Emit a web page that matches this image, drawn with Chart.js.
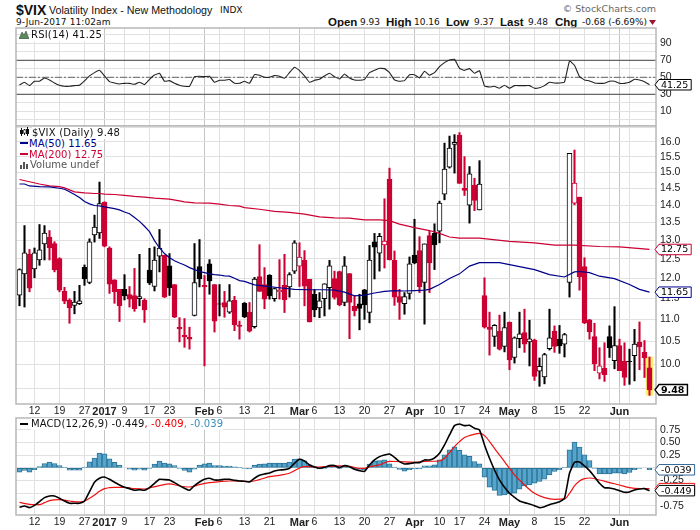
<!DOCTYPE html>
<html><head><meta charset="utf-8">
<script src="https://cdn.jsdelivr.net/npm/chart.js@4"></script>
<style>
html,body{margin:0;padding:0;background:#fff;width:700px;height:530px;overflow:hidden}
canvas{position:absolute;left:0;display:block}
.t{position:absolute;white-space:nowrap;color:#111;line-height:12px}
.d{font-family:"DejaVu Sans";font-size:9px}
.b{font-family:"Liberation Sans";font-weight:bold;font-size:11.5px}
.l{font-family:"DejaVu Sans";font-size:10px;background:#fff;z-index:5}
svg{position:absolute;z-index:5}
</style></head><body>
<div class="t b" style="left:16px;top:2px;font-size:14px;line-height:16px">$VIX</div>
<div class="t" style="left:49px;top:3px;font-family:'Liberation Sans';font-size:10.7px;line-height:14px">Volatility Index - New Methodology</div>
<div class="t d" style="left:220px;top:4px;line-height:12px">INDX</div>
<div class="t d" style="left:16px;top:16px;letter-spacing:.1px">9-Jun-2017 11:02am</div>
<div class="t" style="right:44px;top:3px;font-family:'DejaVu Sans';font-size:9.5px;color:#666">© StockCharts.com</div>
<div class="t b" style="left:328px;top:16px">Open</div><div class="t d" style="left:360px;top:16px">9.93</div>
<div class="t b" style="left:386px;top:16px">High</div><div class="t d" style="left:414px;top:16px">10.16</div>
<div class="t b" style="left:446px;top:16px">Low</div><div class="t d" style="left:474px;top:16px">9.37</div>
<div class="t b" style="left:500px;top:16px">Last</div><div class="t d" style="left:528px;top:16px">9.48</div>
<div class="t b" style="left:555px;top:16px">Chg</div><div class="t d" style="left:582px;top:16px">-0.68 (-6.69%)</div>
<svg style="left:649px;top:20px" width="7" height="5"><path d="M0 0H7L3.5 5Z" fill="#a01030"/></svg>

<canvas id="rsi" width="700" height="100" style="top:26px;width:700px;height:100px"></canvas>
<canvas id="main" width="700" height="294" style="top:124px;width:700px;height:294px"></canvas>
<canvas id="macd" width="700" height="113" style="top:416px;width:700px;height:113px"></canvas>

<svg style="left:19px;top:30px" width="10" height="9"><path d="M0 9L3 2L5 5L7 1L10 9Z" fill="#5c8a5c" stroke="#333" stroke-width=".5"/></svg>
<div class="t l" style="left:31px;top:29px;letter-spacing:.2px">RSI(14) 41.25</div>
<svg style="left:20px;top:127px" width="10" height="10"><path d="M1.5 1V9M4.5 2V8M7.5 0V9" stroke="#111" stroke-width="1"/><rect x="0" y="3" width="3" height="4" fill="#111"/><rect x="3.5" y="3" width="2.5" height="3" fill="#fff" stroke="#111" stroke-width=".6"/><rect x="6" y="2" width="3" height="5" fill="#111"/></svg>
<div class="t l" style="left:32px;top:127px;letter-spacing:.2px">$VIX (Daily) 9.48</div>
<svg style="left:20px;top:142px" width="8" height="2"><rect width="8" height="2" fill="#00008b"/></svg>
<div class="t l" style="left:29px;top:138px;color:#00008b">MA(50) 11.65</div>
<svg style="left:20px;top:153px" width="8" height="2"><rect width="8" height="2" fill="#cc0033"/></svg>
<div class="t l" style="left:29px;top:149px;color:#cc0033">MA(200) 12.75</div>
<svg style="left:20px;top:161px" width="9" height="8"><path d="M0 8V4H2V8ZM3 8V1H5V8ZM6 8V3H8V8Z" fill="#555"/></svg>
<div class="t l" style="left:30px;top:159px;color:#555">Volume undef</div>
<svg style="left:20px;top:423px" width="8" height="2"><rect width="8" height="2" fill="#000"/></svg>
<div class="t l" style="left:31px;top:418px;letter-spacing:.1px">MACD(12,26,9) -0.449<span style="color:#e00">, -0.409</span><span style="color:#3a8fc0">, -0.039</span></div>

<script>
const opens=[11.58,12.11,12.62,12.24,12.47,12.9,13.09,12.91,12.51,11.67,
11.45,11.33,11.37,12.28,11.89,13.15,13.2,14.09,12.79,11.96,
11.72,11.72,11.59,11.57,11.49,11.45,12.21,11.79,12.57,12.59,
12.32,11.84,10.82,10.64,10.59,11.09,12.3,11.82,12.37,11.84,
11.37,11.4,11.17,11.45,10.87,11.38,11.17,10.83,12.04,11.84,
12.07,11.49,11.66,11.82,11.78,12.18,12.31,12.46,11.97,11.6,
11.27,11.49,11.76,11.99,12.17,11.4,12.12,11.31,11.37,11.71,
11.16,12.96,12.65,12.87,14.79,12.46,11.54,11.37,11.62,12.6,
12.72,11.89,13.13,13.19,13.25,14.33,15.17,15.92,16.23,14.51,
14,14.61,13.86,11.57,10.82,10.61,10.73,10.39,10.93,10.15,
10.56,10.7,10.49,10.53,9.86,9.74,10.34,10.73,10.55,10.44,
11.89,14.06,14.24,12.3,10.99,10.61,9.82,9.92,10.61,10.08,
10.41,10.07,10.07,10.19,10.48,10.26,9.93];
const closes=[12.22,12.66,11.75,12.66,12.74,13.2,12.79,12.21,11.7,11.43,
11.27,11.41,11.44,11.98,12.96,13.37,14.05,12.84,11.85,11.66,
11.32,11.56,11.48,11.25,11.54,11.22,11.88,12.47,12.79,11.53,
11.76,11.05,10.78,10.6,10.55,11.89,11.98,11.78,11.93,10.96,
11.36,11.29,11.44,10.87,10.84,11.06,10.73,11.98,11.67,11.48,
11.56,11.74,11.7,11.46,12.09,12.93,12.55,11.8,10.94,11.22,
11.44,11.86,12.32,11.52,11.34,12.32,11.4,11.2,11.26,11.34,
12.47,12.81,13.11,12.98,12.48,11.53,11.4,11.54,12.37,12.39,
11.78,12.9,12.39,12.87,14.06,15.11,15.79,15.99,14.66,14.44,
14.96,14.14,14.64,10.82,10.77,10.86,10.33,10.81,10.1,10.58,
10.67,10.44,10.56,9.75,9.96,10.21,10.58,10.39,10.4,10.65,
15.62,14.67,12.03,10.92,10.71,10.01,9.97,9.79,10.36,10.41,
9.87,9.73,10.06,10.44,10.38,10.14,9.48];
const highs=[12.24,13.41,12.75,12.79,13.44,13.41,13.27,12.96,12.53,11.77,
11.49,11.67,11.82,12.34,13.04,13.71,14.7,14.1,12.82,11.96,
11.72,12.09,11.79,12.25,12.62,11.49,12.78,12.82,13.3,12.6,
12.64,11.84,11.04,11.02,10.82,12.91,13.02,12.07,12.48,11.84,
11.84,11.67,11.84,11.55,10.96,11.4,11.4,12.02,12.88,12.27,
12.09,11.75,12.48,12.62,12.14,12.99,12.93,12.72,11.97,11.72,
11.64,11.86,12.46,12.18,12.18,12.56,12.12,11.56,11.6,11.72,
12.86,13.19,13.19,14.19,15.14,12.71,11.72,11.64,12.55,13.59,
13.1,12.9,13.25,13.46,14.12,15.96,16.2,16.25,16.32,15.51,
15.19,14.82,15.38,12.01,11.17,10.88,11.1,11.17,10.94,10.6,
11.17,11.24,10.98,10.55,10.14,10.24,11.24,10.85,10.86,10.68,
15.62,15.73,14.24,12.53,11,10.91,10.36,10.47,10.85,11.3,
10.55,10.47,10.33,10.77,10.94,10.52,10.16];
const lows=[11.32,11.29,11.66,12.01,12.33,12.47,12.47,12.16,11.66,11.37,
10.91,11.13,11.35,11.82,11.86,12.95,13.05,12.82,11.62,11.38,
10.95,11.46,11.29,11.19,11.32,10.93,11.84,11.68,12.16,11.52,
11.57,11.04,10.49,10.37,10.33,11.08,11.78,9.97,11.6,10.71,
11.08,11.05,11.14,10.74,10.55,11.04,10.71,10.8,11.67,11.25,
11.48,11.43,11.48,11.16,11.53,12.12,11.79,11.32,10.94,11.06,
11.04,11.08,11.24,11.48,11.32,11.32,10.56,11.08,10.76,11,
10.92,11.98,12.18,12.26,12.47,11.33,11,11.12,11.48,12.37,
11.64,10.89,11.64,12.22,12.93,14.16,15.14,14.98,14.66,14.29,
13.48,13.84,13.86,10.8,10.2,10.39,10.31,10.27,9.89,10.03,
10.36,10.26,9.97,9.67,9.55,9.6,10.31,10.26,10.24,10.16,
11.53,14.01,11.7,10.9,10.55,9.87,9.7,9.65,10.15,9.91,
9.87,9.57,9.59,9.66,9.89,9.73,9.37];

const ma50Idx=[0,1,2,4,6,8,9,10,11,12,13,14,15,16,17,19,20,21,22,23,24,25,26,27,28,29,30,31,32,33,34,35,36,37,38,39,40,41,42,43,44,45,47,49,52,55,58,61,63,65,67,69,71,73,75,77,79,81,82,84,86,88,90,92,96,98,103,106,109,111,112,114,116,119,122,124,126];
const ma50Val=[14.64,14.64,14.58,14.56,14.55,14.51,14.48,14.4,14.32,14.23,14.11,14.04,13.99,13.98,13.95,13.9,13.86,13.8,13.75,13.64,13.53,13.39,13.24,12.99,12.79,12.64,12.53,12.45,12.39,12.34,12.27,12.22,12.17,12.14,12.11,12.09,12.08,12.06,12.05,12,11.94,11.92,11.83,11.8,11.76,11.72,11.71,11.71,11.7,11.65,11.56,11.58,11.63,11.67,11.69,11.68,11.69,11.7,11.72,11.84,11.99,12.11,12.31,12.4,12.4,12.35,12.22,12.09,12.03,12.16,12.17,12.14,12.05,11.99,11.84,11.72,11.65];
const ma200Idx=[0,2,4,6,8,9,10,11,13,15,16,17,19,21,23,25,27,30,32,33,35,38,40,42,44,45,48,51,54,57,60,63,66,69,72,74,76,79,82,84,86,88,90,92,98,103,107,111,116,120,126];
const ma200Val=[14.78,14.71,14.64,14.58,14.56,14.52,14.46,14.4,14.37,14.35,14.35,14.33,14.32,14.29,14.26,14.24,14.21,14.18,14.13,14.1,14.07,14.06,14.03,13.99,13.97,13.93,13.88,13.82,13.79,13.74,13.66,13.63,13.62,13.57,13.57,13.55,13.45,13.35,13.27,13.19,13.09,13.06,13.06,13.06,12.97,12.93,12.87,12.87,12.83,12.82,12.75];
const highlightRange=[9.37,10.16];

const rsiVal=[41,44.1,40.2,45.3,45.3,49.2,46.9,43.3,40.6,39.4,
39.4,40.2,40.6,45.7,51.6,55.5,58.2,51.6,44.9,43.3,
42.2,42.9,42.9,41.8,44.1,41.4,47.6,52.7,54.7,45.3,
46.1,42.9,40.6,39.4,39.4,50.8,51.2,50.8,51.2,44.1,
46.5,46.5,47.3,42.9,42.9,45.3,42.9,53.1,52.4,50,
50,52,51.2,48.8,55.5,61.8,57.8,51.6,44.1,46.5,
47.6,51.6,54.7,50.8,48,53.9,49.2,46.9,46.5,47.6,
55.5,58.2,60.6,60.2,55.5,46.9,45.3,46.1,53.1,53.1,
49.2,57.1,52.4,55.5,62.5,67.3,70.4,71.2,60.6,58.2,
60.2,54.7,57.8,39.8,38.6,39.4,37.1,40.6,37.1,40.2,
40.2,40.2,40.2,37.1,37.8,40.2,44.1,43.3,43.3,44.5,
69.2,64.1,50.8,46.9,45.7,43.3,42.9,42.9,45.3,45.3,
42.9,42.9,44.1,47.6,46.9,44.9,41.25];
const rsiLevelHigh=70, rsiLevelMid=50, rsiLevelLow=30;

const macdVal=[-0.776,-0.75,-0.783,-0.737,-0.665,-0.586,-0.553,-0.553,-0.599,-0.652,
-0.697,-0.697,-0.697,-0.652,-0.468,-0.285,-0.206,-0.18,-0.226,-0.285,
-0.337,-0.383,-0.409,-0.442,-0.429,-0.442,-0.39,-0.305,-0.226,-0.232,
-0.239,-0.291,-0.35,-0.403,-0.442,-0.35,-0.278,-0.226,-0.206,-0.239,
-0.239,-0.226,-0.226,-0.246,-0.259,-0.265,-0.278,-0.206,-0.147,-0.121,
-0.102,-0.062,-0.043,-0.036,-0.01,0.088,0.167,0.134,0.056,0.016,
-0.01,0.01,0.043,0.043,0.003,0.043,0.023,-0.029,-0.056,-0.069,
0.056,0.154,0.219,0.252,0.272,0.206,0.121,0.075,0.082,0.102,
0.102,0.154,0.154,0.193,0.285,0.449,0.645,0.828,0.861,0.828,
0.835,0.776,0.743,0.449,0.187,-0.043,-0.239,-0.383,-0.501,-0.58,
-0.652,-0.684,-0.711,-0.743,-0.783,-0.763,-0.724,-0.697,-0.665,-0.599,
-0.108,0.108,0.115,0.036,-0.056,-0.174,-0.305,-0.39,-0.396,-0.416,
-0.449,-0.481,-0.475,-0.436,-0.416,-0.409,-0.449];
const signalIdx=[0,2,4,5,6,8,10,12,13,14,15,16,17,18,19,21,23,25,26,28,30,32,34,36,38,40,42,44,46,48,50,52,54,55,56,57,58,60,62,64,66,68,69,70,72,74,76,79,81,84,85,86,87,88,89,90,92,93,95,97,99,101,103,105,107,109,110,111,112,113,114,116,118,120,122,124,126];
const signalVal=[-0.678,-0.717,-0.724,-0.684,-0.645,-0.625,-0.652,-0.671,-0.652,-0.599,-0.534,-0.462,-0.409,-0.39,-0.383,-0.383,-0.409,-0.416,-0.396,-0.35,-0.317,-0.357,-0.377,-0.331,-0.291,-0.272,-0.259,-0.259,-0.272,-0.232,-0.174,-0.147,-0.108,-0.056,-0.003,0.023,0.023,0.016,0.029,0.036,0.029,-0.01,-0.01,0.023,0.056,0.128,0.121,0.108,0.128,0.134,0.187,0.298,0.416,0.514,0.593,0.632,0.678,0.632,0.383,0.121,-0.141,-0.337,-0.501,-0.586,-0.619,-0.612,-0.501,-0.357,-0.259,-0.213,-0.2,-0.239,-0.291,-0.337,-0.39,-0.409,-0.409];
const histVal=[-0.085,-0.052,-0.085,-0.039,0.026,0.085,0.111,0.085,0.046,0.007,
-0.046,-0.046,-0.046,0.013,0.118,0.19,0.288,0.275,0.177,0.105,
0.052,0,-0.026,-0.046,-0.026,-0.046,-0.007,0.072,0.131,0.092,
0.079,0.046,-0.013,-0.052,-0.085,-0.026,0.052,0.079,0.092,0.046,
0.046,0.033,0.033,0.02,0.007,-0.013,-0.02,0.052,0.072,0.079,
0.092,0.092,0.092,0.092,0.111,0.17,0.177,0.138,0.059,0.013,
-0.02,-0.007,0.013,0.013,-0.007,0.02,0.013,
-0.02,-0.033,-0.039,0.072,0.138,0.144,0.157,0.079,0.013,-0.033,
-0.065,-0.039,-0.02,-0.02,0.039,0.039,0.059,0.157,0.255,0.354,
0.413,0.341,0.255,0.223,0.124,0.079,-0.183,-0.38,-0.445,-0.544,
-0.531,-0.511,-0.498,-0.419,-0.354,-0.334,-0.301,-0.269,-0.223,-0.138,
-0.072,-0.039,0.007,0.354,0.504,0.406,0.255,0.144,-0.007,-0.118,
-0.118,-0.118,-0.105,-0.105,-0.118,-0.092,-0.039,-0.013,0,-0.039];

const xTickIdx=[3,8,13,17,21,26,30,37,40,45,50,56,59,64,69,74,79,84,88,93,98,103,108,113,118,120,122];
const xTickText=["12","19","27","2017","9","17","23","Feb","6","13","21","Mar","6","13","20","27","Apr","10","17","24","May","8","15","22","","Jun",""];
const xMajorText=["2017","Feb","Mar","Apr","May","Jun"];
const priceTicks=[9.5,10,10.5,11,11.5,12,12.5,13,13.5,14,14.5,15,15.5,16,16.5];
const priceHidden=[9.5,16.5];
const rsiTicks=[0,10,20,30,40,50,60,70,80,90,100];
const rsiLabels=[10,30,50,70,90];
const macdTicks=[-0.75,-0.5,-0.25,0,0.25,0.5,0.75];
const macdLabels=[-0.75,-0.25,0.25,0.5,0.75];

const RED="#cc0033",BLACK="#000000",GRID="#e1e1e1",MAJOR="#c4c4c4",FRAME="#b8b8b8";
const FONT="'Liberation Sans'";
const XMIN=-0.7,XMAX=127.3;
const idx=closes.map((_,i)=>i);
const isRed=i=>i>0&&closes[i]<closes[i-1];
const isHollow=i=>closes[i]>opens[i];
const pts=(xs,ys)=>xs.map((x,i)=>({x,y:ys[i]}));

const framePlugin={id:"frame",afterDatasetsDraw(c){const a=c.chartArea,g=c.ctx;g.save();g.strokeStyle=FRAME;g.lineWidth=1.5;g.strokeRect(a.left,a.top,a.width,a.height);g.restore();}};
function tagPlugin(tags){return{id:"tags",afterDraw(c){const g=c.ctx,s=c.scales.y,x0=c.chartArea.right-1;
 tags.forEach(t=>{const y=s.getPixelForValue(t.v);g.save();g.font=(t.bold?"bold ":"")+"9.5px 'DejaVu Sans'";
 const w=g.measureText(t.text).width+5,h=10.5;
 g.beginPath();g.moveTo(x0,y);g.lineTo(x0+4,y-h/2);g.lineTo(x0+4+w,y-h/2);g.lineTo(x0+4+w,y+h/2);g.lineTo(x0+4,y+h/2);g.closePath();
 g.fillStyle="#fff";g.fill();g.strokeStyle=t.color;g.lineWidth=t.bold?1.4:1;g.stroke();
 g.fillStyle="#000";g.textAlign="left";g.textBaseline="middle";g.fillText(t.text,x0+6,y+.5);g.restore();});}};}

function xScale(showLabels){return{type:"linear",min:XMIN,max:XMAX,offset:false,
 afterBuildTicks(a){a.ticks=xTickIdx.map(v=>({value:v}));},
 afterFit(a){a.height=showLabels?14:0;a.paddingLeft=0;a.paddingRight=0;},
 border:{display:false},
 grid:{drawTicks:false,offset:false,lineWidth:1,color(ctx){const t=xTickText[xTickIdx.indexOf(ctx.tick?ctx.tick.value:-1)];return xMajorText.includes(t)?MAJOR:GRID;}},
 ticks:{display:showLabels,autoSkip:false,maxRotation:0,minRotation:0,padding:1,color:"#222",
  callback(v){const k=xTickIdx.indexOf(v);return k<0?"":xTickText[k];},
  font(ctx){const t=ctx.tick?xTickText[xTickIdx.indexOf(ctx.tick.value)]:"";return xMajorText.includes(t)?{family:FONT,size:11,weight:"bold"}:{family:FONT,size:10.5};}}};}
function yBase(extra){return Object.assign({position:"right",afterFit(a){a.width=44;a.paddingTop=0;a.paddingBottom=0;},border:{display:false},
 grid:{drawTicks:false,color:GRID,lineWidth:1}},extra);}
function yTicks(cb){return{autoSkip:false,padding:4,color:"#222",font:{family:FONT,size:10.5},callback:cb};}

Chart.defaults.animation=false;
const baseOpts=(scales,pad)=>({responsive:false,animation:false,devicePixelRatio:1,layout:{padding:pad},
 plugins:{legend:{display:false},tooltip:{enabled:false},title:{display:false}},scales});

new Chart(document.getElementById("rsi"),{type:"line",
 data:{datasets:[
  {data:pts([XMIN,XMAX],[rsiLevelHigh,rsiLevelHigh]),borderColor:"#666",borderWidth:1.2,pointRadius:0,order:3},
  {data:pts([XMIN,XMAX],[rsiLevelLow,rsiLevelLow]),borderColor:"#666",borderWidth:1.2,pointRadius:0,order:3},
  {data:pts([XMIN,XMAX],[rsiLevelMid,rsiLevelMid]),borderColor:"#666",borderWidth:1,borderDash:[7,2,2,2],pointRadius:0,order:3},
  {data:pts(idx,rsiVal),borderColor:"#222",borderWidth:1.1,pointRadius:0,tension:0.1,order:1}
 ]},
 options:baseOpts({x:xScale(false),y:yBase({type:"linear",min:-7.3,max:108,
  afterBuildTicks(a){a.ticks=rsiTicks.map(value=>({value}));},
  ticks:yTicks(v=>rsiLabels.includes(v)?String(v):"")})},{left:16,top:2,right:0,bottom:0}),
 plugins:[framePlugin,tagPlugin([{v:41.25,text:"41.25",color:"#000"}])]});

new Chart(document.getElementById("main"),{type:"bar",
 data:{datasets:[
  {type:"bar",grouped:false,data:[{x:126,y:highlightRange}],backgroundColor:"#f8f06a",barThickness:7,order:9,borderSkipped:false},
  {type:"bar",grouped:false,data:idx.map(i=>({x:i,y:[lows[i],highs[i]]})),backgroundColor:idx.map(i=>isRed(i)?RED:BLACK),barThickness:1.4,order:8,borderSkipped:false},
  {type:"bar",grouped:false,data:idx.map(i=>({x:i,y:[opens[i],closes[i]]})),
   backgroundColor:idx.map(i=>isHollow(i)?"#fff":(isRed(i)?RED:BLACK)),
   borderColor:idx.map(i=>isRed(i)?RED:BLACK),borderWidth:1,barThickness:5,order:7,borderSkipped:false},
  {type:"line",data:pts(ma200Idx,ma200Val),borderColor:RED,borderWidth:1.2,pointRadius:0,order:2},
  {type:"line",data:pts(ma50Idx,ma50Val),borderColor:"#00008b",borderWidth:1.2,pointRadius:0,order:1}
 ]},
 options:baseOpts({x:xScale(true),y:yBase({type:"logarithmic",min:9.218,max:16.548,
  afterBuildTicks(a){a.ticks=priceTicks.map(value=>({value}));},
  ticks:yTicks(v=>priceHidden.includes(v)?"":v.toFixed(1))})},{left:16,top:2,right:0,bottom:0}),
 plugins:[framePlugin,tagPlugin([
  {v:12.75,text:"12.75",color:RED},{v:11.65,text:"11.65",color:"#00008b"},{v:closes[126],text:"9.48",color:"#000",bold:true}])]});

new Chart(document.getElementById("macd"),{type:"bar",
 data:{datasets:[
  {type:"bar",grouped:false,data:pts(idx,histVal),backgroundColor:"#56a3cc",borderColor:"#2a7396",borderWidth:1,barThickness:5,order:5,borderSkipped:false},
  {type:"line",data:pts(signalIdx,signalVal),borderColor:"#ee1111",borderWidth:1.2,pointRadius:0,cubicInterpolationMode:"monotone",order:2},
  {type:"line",data:pts(idx,macdVal),borderColor:"#000",borderWidth:1.6,pointRadius:0,tension:0.15,order:1}
 ]},
 options:baseOpts({x:xScale(true),y:yBase({type:"linear",min:-0.927,max:0.978,
  afterBuildTicks(a){a.ticks=macdTicks.map(value=>({value}));},
  ticks:yTicks(v=>macdLabels.includes(v)?v.toFixed(2):"")})},{left:16,top:2,right:0,bottom:0}),
 plugins:[framePlugin,tagPlugin([
  {v:-0.409,text:"-0.409",color:"#ee1111"},{v:-0.449,text:"-0.449",color:"#000"},{v:-0.039,text:"-0.039",color:"#336699"}])]});
</script>
</body></html>
